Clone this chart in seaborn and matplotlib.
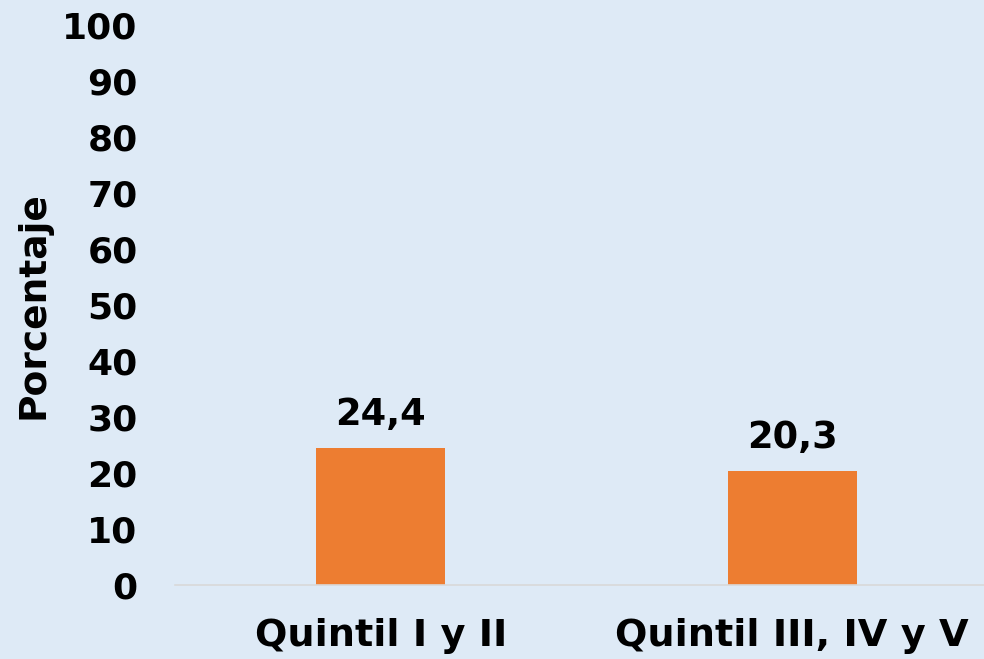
import matplotlib
matplotlib.use("Agg")
import matplotlib.pyplot as plt
import seaborn as sns
import pandas as pd

# data
categories = ["Quintil I y II", "Quintil III, IV y V"]
values = [24.4, 20.3]
value_labels = ["24,4", "20,3"]
y_ticks = list(range(0, 101, 10))

bg = "#DEEAF6"
bar_color = "#ED7D31"

sns.set_theme(style="white")
plt.rcParams["font.family"] = ["DejaVu Sans"]

df = pd.DataFrame({"grupo": categories, "pct": values})

fig = plt.figure(figsize=(9.84, 6.59), dpi=100, facecolor=bg)
ax = fig.add_axes([175 / 984, 74 / 659, 823 / 984, 560 / 659])
ax.set_facecolor(bg)

sns.barplot(data=df, x="grupo", y="pct", color=bar_color, width=0.313,
            saturation=1, edgecolor="none", linewidth=0, ax=ax)

for patch, lab in zip(ax.patches, value_labels):
    ax.annotate(lab, (patch.get_x() + patch.get_width() / 2, patch.get_height()),
                xytext=(0, 11), textcoords="offset points", ha="center", va="bottom",
                fontsize=26.5, fontweight="bold", color="black")

ax.set_ylim(0, 100)
ax.set_yticks(y_ticks)
ax.set_yticklabels([str(t) for t in y_ticks], fontsize=26, fontweight="bold")
ax.set_xticks(range(len(categories)))
ax.set_xticklabels(categories, fontsize=27.5, fontweight="bold")
ax.tick_params(axis="y", length=0, pad=27, colors="black")
ax.tick_params(axis="x", length=0, pad=24, colors="black")
ax.set_xlabel("")
ax.set_ylabel("Porcentaje", fontsize=27, fontweight="bold", color="black",
              labelpad=8)

for s in ["top", "right", "left"]:
    ax.spines[s].set_visible(False)
ax.spines["bottom"].set_color("#D9D9D9")
ax.spines["bottom"].set_linewidth(1.2)
ax.grid(False)

fig.savefig("out.png", dpi=100, facecolor=bg)
